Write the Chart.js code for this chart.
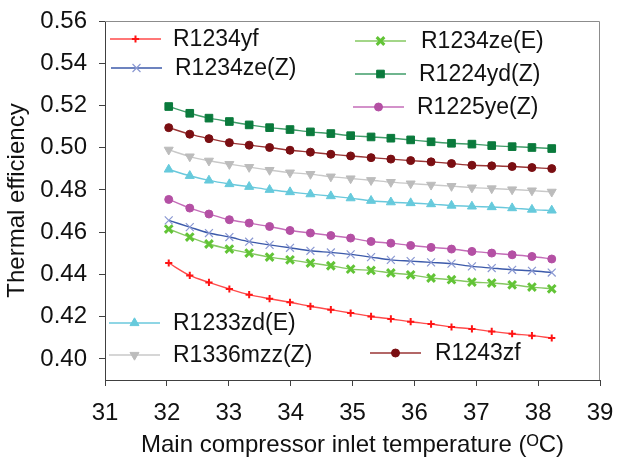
<!DOCTYPE html>
<html>
<head>
<meta charset="utf-8">
<script src="https://cdn.jsdelivr.net/npm/chart.js@4/dist/chart.umd.min.js"></script>
<style>
  html, body { margin: 0; padding: 0; background: #ffffff; }
  #wrap { width: 632px; height: 463px; position: relative; }
</style>
</head>
<body>
<div id="wrap"><canvas id="c" width="632" height="463"></canvas></div>
<script>
// ---- Data ----
const temps = [32.03, 32.37, 32.68, 33.01, 33.33, 33.66, 33.99, 34.32, 34.65, 34.97,
               35.30, 35.62, 35.94, 36.27, 36.60, 36.93, 37.25, 37.58, 37.90, 38.22];

const r1234yf   = [0.4454, 0.4395, 0.4362, 0.4331, 0.4304, 0.4285, 0.4268, 0.4249, 0.4233, 0.4217,
                   0.4201, 0.4189, 0.4176, 0.4165, 0.4151, 0.4142, 0.4130, 0.4119, 0.4110, 0.4099];
const r1234zeZ  = [0.4656, 0.4624, 0.4596, 0.4577, 0.4555, 0.4540, 0.4526, 0.4512, 0.4504, 0.4495,
                   0.4482, 0.4469, 0.4463, 0.4457, 0.4451, 0.4438, 0.4430, 0.4422, 0.4417, 0.4409];
const r1234zeE  = [0.4615, 0.4577, 0.4544, 0.4520, 0.4501, 0.4482, 0.4469, 0.4454, 0.4441, 0.4425,
                   0.4419, 0.4407, 0.4398, 0.4383, 0.4375, 0.4364, 0.4359, 0.4351, 0.4340, 0.4332];
const r1224ydZ  = [0.5195, 0.5163, 0.5140, 0.5124, 0.5108, 0.5095, 0.5086, 0.5075, 0.5067, 0.5057,
                   0.5051, 0.5045, 0.5037, 0.5028, 0.5021, 0.5017, 0.5010, 0.5005, 0.5001, 0.4996];
const r1225yeZ  = [0.4755, 0.4714, 0.4686, 0.4659, 0.4643, 0.4627, 0.4608, 0.4596, 0.4584, 0.4572,
                   0.4556, 0.4548, 0.4537, 0.4528, 0.4520, 0.4509, 0.4501, 0.4493, 0.4485, 0.4473];
const r1233zdE  = [0.4897, 0.4867, 0.4845, 0.4828, 0.4815, 0.4801, 0.4790, 0.4780, 0.4771, 0.4761,
                   0.4749, 0.4742, 0.4738, 0.4733, 0.4726, 0.4722, 0.4719, 0.4714, 0.4707, 0.4703];
const r1336mzzZ = [0.4990, 0.4958, 0.4938, 0.4922, 0.4908, 0.4894, 0.4882, 0.4875, 0.4863, 0.4854,
                   0.4846, 0.4837, 0.4830, 0.4824, 0.4818, 0.4811, 0.4807, 0.4802, 0.4797, 0.4791];
const r1243zf   = [0.5095, 0.5064, 0.5043, 0.5024, 0.5012, 0.5001, 0.4988, 0.4979, 0.4969, 0.4961,
                   0.4953, 0.4946, 0.4939, 0.4933, 0.4925, 0.4917, 0.4914, 0.4911, 0.4906, 0.4901];

const seriesNames = ['R1234yf', 'R1234ze(Z)', 'R1234ze(E)', 'R1224yd(Z)',
                     'R1225ye(Z)', 'R1233zd(E)', 'R1336mzz(Z)', 'R1243zf'];
const seriesValues = [r1234yf, r1234zeZ, r1234zeE, r1224ydZ, r1225yeZ, r1233zdE, r1336mzzZ, r1243zf];

const xTicks = [31, 32, 33, 34, 35, 36, 37, 38, 39];
const yTicks = [0.40, 0.42, 0.44, 0.46, 0.48, 0.50, 0.52, 0.54, 0.56];

// ---- Styles ----
const styles = [
  { line: '#ff4a4a', fill: '#ff1414', border: '#ff1414', ps: 'cross',    r: 3.6, bw: 2,   rot: 0 },
  { line: '#3c5aaa', fill: '#8a98d2', border: '#8a98d2', ps: 'crossRot', r: 5.6, bw: 1.2, rot: 0 },
  { line: '#84c860', fill: '#62c436', border: '#62c436', ps: 'crossRot', r: 5.4, bw: 3,   rot: 0 },
  { line: '#3f9c68', fill: '#0a7a3c', border: '#0a7a3c', ps: 'rect',     r: 5.4, bw: 1,   rot: 0 },
  { line: '#c46cb8', fill: '#b450a4', border: '#b450a4', ps: 'circle',   r: 4.0, bw: 1,   rot: 0 },
  { line: '#6ac8dc', fill: '#66cadc', border: '#66cadc', ps: 'triangle', r: 5.2, bw: 1,   rot: 0 },
  { line: '#c8c8c8', fill: '#bcbcbc', border: '#bcbcbc', ps: 'triangle', r: 5.2, bw: 1,   rot: 180 },
  { line: '#9a3434', fill: '#7a0e12', border: '#7a0e12', ps: 'circle',   r: 4.0, bw: 1,   rot: 0 }
];

const datasets = seriesNames.map((name, i) => ({
  label: name,
  data: temps.map((t, j) => ({ x: t, y: seriesValues[i][j] })),
  borderColor: styles[i].line,
  borderWidth: 1.4,
  pointStyle: styles[i].ps,
  pointRadius: styles[i].r,
  pointRotation: styles[i].rot,
  pointBackgroundColor: styles[i].fill,
  pointBorderColor: styles[i].border,
  pointBorderWidth: styles[i].bw,
  tension: 0.3,
  fill: false
}));

const FONT = "'Liberation Sans', Arial, sans-serif";

// Scattered legend entries (like the original)
const scatterLegend = {
  id: 'scatterLegend',
  afterDatasetsDraw(chart, args, opts) {
    const ctx = chart.ctx;
    chart.data.datasets.forEach((ds, i) => {
      const p = opts.spots[i];
      ctx.save();
      ctx.strokeStyle = ds.borderColor;
      ctx.lineWidth = 1.4;
      ctx.beginPath();
      ctx.moveTo(p.x, p.y);
      ctx.lineTo(p.x + 51, p.y);
      ctx.stroke();
      ctx.fillStyle = ds.pointBackgroundColor;
      ctx.strokeStyle = ds.pointBorderColor;
      ctx.lineWidth = ds.pointBorderWidth;
      Chart.helpers.drawPoint(ctx, {
        pointStyle: ds.pointStyle,
        radius: ds.pointRadius,
        rotation: ds.pointRotation,
        borderWidth: ds.pointBorderWidth
      }, p.x + 25.5, p.y);
      ctx.fillStyle = '#111111';
      ctx.font = opts.font;
      ctx.textAlign = 'left';
      ctx.textBaseline = 'middle';
      ctx.fillText(ds.label, p.tx, p.y + 1);
      ctx.restore();
    });
  }
};

const frame = {
  id: 'frame',
  beforeDatasetsDraw(chart) {
    const { ctx, chartArea: a } = chart;
    ctx.save();
    ctx.strokeStyle = '#8c8c8c';
    ctx.lineWidth = 1;
    ctx.beginPath();
    ctx.moveTo(a.left, a.top + 0.5);
    ctx.lineTo(a.right - 0.5, a.top + 0.5);
    ctx.lineTo(a.right - 0.5, a.bottom);
    ctx.stroke();
    ctx.restore();
  }
};

new Chart(document.getElementById('c'), {
  type: 'line',
  data: { datasets },
  plugins: [frame, scatterLegend],
  options: {
    responsive: false,
    animation: false,
    devicePixelRatio: 1,
    layout: { padding: { top: 21, right: 32, left: 0, bottom: 0 } },
    plugins: {
      legend: { display: false },
      tooltip: { enabled: false },
      scatterLegend: {
        font: "23px " + FONT,
        spots: [
          { x: 110, y: 39,  tx: 173 },
          { x: 111, y: 68,  tx: 175 },
          { x: 355, y: 41,  tx: 421 },
          { x: 355, y: 74,  tx: 419 },
          { x: 353, y: 107, tx: 417 },
          { x: 109, y: 323, tx: 173 },
          { x: 109, y: 355, tx: 173 },
          { x: 370, y: 353, tx: 435 }
        ]
      }
    },
    scales: {
      x: {
        type: 'linear',
        min: 31, max: 39,
        afterBuildTicks: s => { s.ticks = xTicks.map(v => ({ value: v })); },
        afterFit: s => { s.height = 83; s.paddingLeft = 0; s.paddingRight = 0; },
        grid: { drawOnChartArea: false, drawTicks: true, tickLength: 6, color: '#404040' },
        border: { color: '#404040', width: 1 },
        ticks: { color: '#111111', font: { family: FONT, size: 24 }, padding: 13, maxRotation: 0,
                 callback: v => String(v) },
        title: { display: true, text: 'Main compressor inlet temperature (\u1D3CC)', color: '#111111',
                 font: { family: FONT, size: 24 }, padding: { top: 0, bottom: 3 } }
      },
      y: {
        type: 'linear',
        min: 0.39, max: 0.56,
        afterBuildTicks: s => { s.ticks = yTicks.map(v => ({ value: v })); },
        afterFit: s => { s.width = 105; s.paddingTop = 0; s.paddingBottom = 0; },
        grid: { drawOnChartArea: false, drawTicks: true, tickLength: 6, color: '#404040' },
        border: { color: '#404040', width: 1 },
        ticks: { color: '#111111', font: { family: FONT, size: 24 }, padding: 12,
                 callback: v => Number(v).toFixed(2) },
        title: { display: true, text: 'Thermal efficiency', color: '#111111',
                 font: { family: FONT, size: 24 }, padding: { top: 3, bottom: 0 } }
      }
    }
  }
});
</script>
</body>
</html>
